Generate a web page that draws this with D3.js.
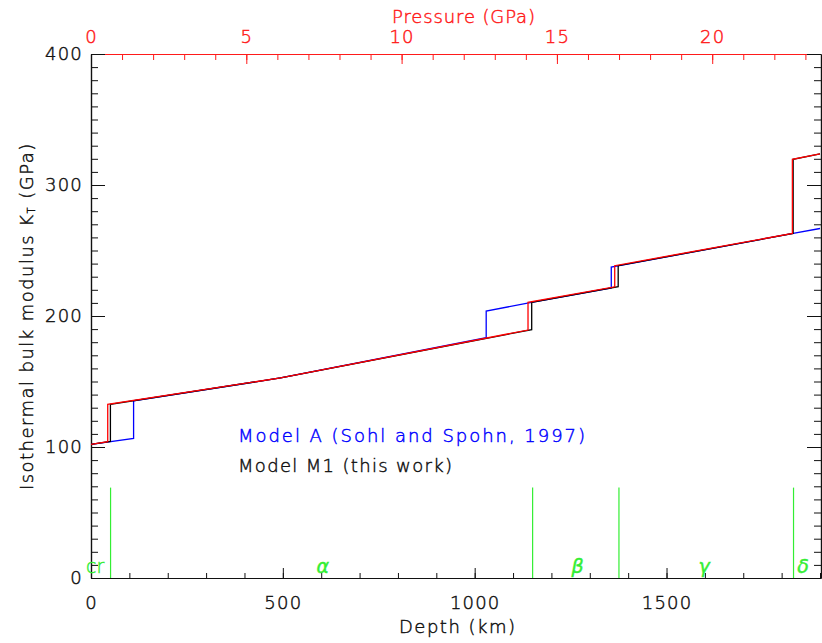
<!DOCTYPE html>
<html><head><meta charset="utf-8">
<script src="https://cdn.jsdelivr.net/npm/d3@7"></script>
<style>
body{margin:0;background:#fff;}
svg{display:block;}
text{font-family:"DejaVu Sans",sans-serif;font-weight:200;}
</style></head>
<body><svg id="c" width="822" height="643"></svg>
<script>
// ---- data ----
const modelA_depth = [0, 111, 111, 494, 1030, 1030, 1148, 1356, 1356, 1830, 1900];
const modelA_K     = [102, 106.6, 135.3, 152.7, 183.4, 203.8, 210.4, 221.4, 237.4, 263, 266.8];
const modelM1_depth = [0, 50.6, 50.6, 494, 1148.6, 1148.6, 1374, 1374, 1830, 1830, 1900];
const modelM1_K     = [102, 104.2, 132.6, 152.7, 189.6, 210.4, 222.4, 238.4, 263, 319.6, 323.7];
const modelP_depth = [0, 43.6, 43.6, 494, 1139, 1139, 1365, 1365, 1828, 1828, 1900];
const modelP_K     = [102, 104, 132.6, 152.7, 189.3, 210.4, 222.3, 238.4, 263, 319.6, 323.7];
const boundaryDepths = [51, 1151, 1376, 1831];
const boundaryTop = 69;
const phaseLabels = ["cr", "α", "β", "γ", "δ"];
const phaseDepths = [-13, 604, 1268, 1598, 1856];
const depthMajor = [0, 500, 1000, 1500];
const pressureMajor = [0, 5, 10, 15, 20];
const kMajor = [0, 100, 200, 300, 400];
const legendLabels = ["Model A (Sohl and Spohn, 1997)", "Model M1 (this work)"];

// ---- layout ----
const L = 91, R = 820, T = 54, B = 578;
const svg = d3.select("#c");
const x = d3.scaleLinear().domain([0, 1900]).range([L, R]);
const xp = d3.scaleLinear().domain([0, 23.47]).range([L, R]);
const y = d3.scaleLinear().domain([0, 400]).range([B, T]);
const FS = 18;
const SW = 0.45; // text stroke to darken the thin face

function darken(sel, color) {
  return sel.attr("stroke", color).attr("stroke-width", SW);
}
function styleAxis(g, color) {
  g.selectAll("path").attr("stroke", color).attr("stroke-width", 1.2);
  g.selectAll("line").attr("stroke", color).attr("stroke-width", 1);
  const t = g.selectAll("text").attr("fill", color).attr("font-size", FS)
    .attr("font-family", '"DejaVu Sans",sans-serif').attr("letter-spacing", 1.2);
  darken(t, color);
}

// bottom axis
const dMinor = d3.range(0, 1901, 100);
let g = svg.append("g").attr("transform", `translate(0,${B})`)
  .call(d3.axisBottom(x).tickValues(dMinor).tickSize(-5).tickFormat("").tickSizeOuter(0));
styleAxis(g, "#111");
g = svg.append("g").attr("transform", `translate(0,${B})`)
  .call(d3.axisBottom(x).tickValues(depthMajor).tickSize(-10).tickPadding(18).tickFormat(d3.format("d")).tickSizeOuter(0));
styleAxis(g, "#111");

// top axis (pressure)
const pMinor = d3.range(0, 24, 1);
g = svg.append("g").attr("transform", `translate(0,${T})`)
  .call(d3.axisTop(xp).tickValues(pMinor).tickSize(-6).tickFormat("").tickSizeOuter(0));
styleAxis(g, "#ff1a1a");
g = svg.append("g").attr("transform", `translate(0,${T})`)
  .call(d3.axisTop(xp).tickValues(pressureMajor).tickSize(-10).tickPadding(11).tickFormat(d3.format("d")).tickSizeOuter(0));
styleAxis(g, "#ff1a1a");

// left axis
const kMinor = d3.range(0, 401, 10);
g = svg.append("g").attr("transform", `translate(${L},0)`)
  .call(d3.axisLeft(y).tickValues(kMinor).tickSize(-7).tickFormat("").tickSizeOuter(0));
styleAxis(g, "#111");
g = svg.append("g").attr("transform", `translate(${L},0)`)
  .call(d3.axisLeft(y).tickValues(kMajor).tickSize(-14).tickPadding(8).tickFormat(d3.format("d")).tickSizeOuter(0));
styleAxis(g, "#111");
// right axis
g = svg.append("g").attr("transform", `translate(${R+1},0)`)
  .call(d3.axisRight(y).tickValues(kMinor).tickSize(-7).tickFormat("").tickSizeOuter(0));
styleAxis(g, "#111");
g = svg.append("g").attr("transform", `translate(${R+1},0)`)
  .call(d3.axisRight(y).tickValues(kMajor).tickSize(-14).tickFormat("").tickSizeOuter(0));
styleAxis(g, "#111");

// titles
darken(svg.append("text").attr("x", 392).attr("y", 23)
  .attr("font-size", FS).attr("fill", "#ff1a1a")
  .attr("textLength", 143).attr("lengthAdjust", "spacing").text("Pressure (GPa)"), "#ff1a1a");
darken(svg.append("text").attr("x", 399).attr("y", 633)
  .attr("font-size", FS).attr("fill", "#111")
  .attr("textLength", 116).attr("lengthAdjust", "spacing").text("Depth (km)"), "#111");
const yt = darken(svg.append("text").attr("transform", "translate(33,490) rotate(-90)")
  .attr("font-size", FS).attr("fill", "#111").attr("letter-spacing", 1.45), "#111");
yt.append("tspan").text("Isothermal bulk modulus K");
yt.append("tspan").attr("font-size", 10).attr("dy", 2).text("T");
yt.append("tspan").attr("dy", -2).text(" (GPa)");

// boundaries
svg.append("g").selectAll("line").data(boundaryDepths).join("line")
  .attr("x1", d => x(d)).attr("x2", d => x(d))
  .attr("y1", y(0)).attr("y2", y(boundaryTop))
  .attr("stroke", "#33ee33").attr("stroke-width", 1.2);
darken(svg.append("g").selectAll("text").data(phaseLabels).join("text")
  .attr("x", (d, i) => x(phaseDepths[i]))
  .attr("y", 573)
  .attr("text-anchor", (d, i) => i === 0 ? "start" : "middle")
  .attr("font-size", 19).attr("font-style", (d, i) => i === 0 ? "normal" : "italic")
  .attr("fill", "#33ee33").text(d => d), "#33ee33");

// lines
const line = d3.line().x(d => x(d[0])).y(d => y(d[1]));
const series = [
  {d: modelA_depth, k: modelA_K, c: "#0000ff"},
  {d: modelM1_depth, k: modelM1_K, c: "#000000"},
  {d: modelP_depth, k: modelP_K, c: "#ff0000"}
];
series.forEach(s => {
  svg.append("path").datum(s.d.map((v, i) => [v, s.k[i]]))
    .attr("d", line).attr("fill", "none").attr("stroke", s.c).attr("stroke-width", 1.3);
});

// legend
darken(svg.append("text").attr("x", 238).attr("y", 442).attr("font-size", FS).attr("fill", "#0000ff")
  .attr("textLength", 347).attr("lengthAdjust", "spacing").text(legendLabels[0]), "#0000ff");
darken(svg.append("text").attr("x", 238).attr("y", 472).attr("font-size", FS).attr("fill", "#111")
  .attr("textLength", 214).attr("lengthAdjust", "spacing").text(legendLabels[1]), "#111");
</script></body></html>
